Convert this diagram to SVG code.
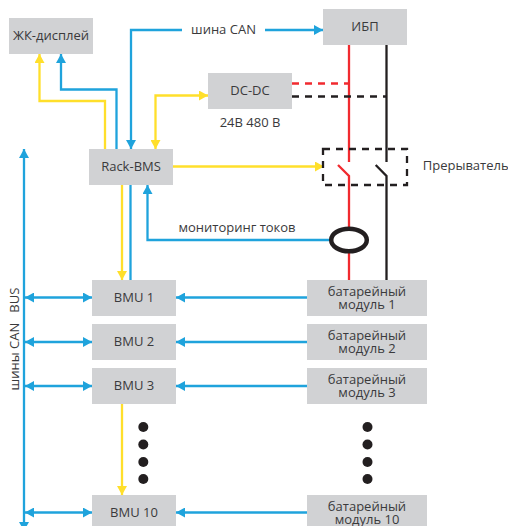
<svg xmlns="http://www.w3.org/2000/svg" width="508" height="526" viewBox="0 0 508 526">
<style>
.box{fill:#d1d2d4}
text{font-family:"Open Sans","Liberation Sans",sans-serif;font-size:13px;fill:#3a3a3c;text-anchor:middle}
.l{fill:none;stroke-width:2.300}
.b{stroke:#1fa3dc}.y{stroke:#ffdf2b}.r{stroke:#f12a2f}.k{stroke:#231f20}
.d{stroke-dasharray:7 6}
.dot{fill:#231f20}
</style>
<defs>
<marker id="ab" markerUnits="userSpaceOnUse" markerWidth="10" markerHeight="10" refX="9" refY="5" orient="auto-start-reverse"><path d="M0 0L9 5L0 10Z" fill="#1fa3dc"/></marker>
<marker id="ay" markerUnits="userSpaceOnUse" markerWidth="10" markerHeight="10" refX="9" refY="5" orient="auto-start-reverse"><path d="M0 0L9 5L0 10Z" fill="#ffdf2b"/></marker>
</defs>
<g id="connectors">
<path class="l y" d="M105 149V101H39.500V54" marker-end="url(#ay)"/>
<path class="l b" d="M116.500 149V89.500H61V54" marker-end="url(#ab)"/>
<path class="l b" d="M182 30H131V149" marker-end="url(#ab)"/>
<path class="l b" d="M265 30H323" marker-end="url(#ab)"/>
<path class="l y" d="M208 95.500H155.500V149" marker-start="url(#ay)" marker-end="url(#ay)"/>
<path class="l y" d="M173 166.500H324" marker-end="url(#ay)"/>
<path class="l y" d="M122 185V280" marker-end="url(#ay)"/>
<path class="l b" d="M130.500 185V280"/>
<path class="l b" d="M329 240H147.500V185" marker-end="url(#ab)"/>
<path class="l b" d="M24 149V531" marker-start="url(#ab)" marker-end="url(#ab)"/>
<path class="l b" d="M25 297.500H92" marker-start="url(#ab)" marker-end="url(#ab)"/>
<path class="l b" d="M25 342H92" marker-start="url(#ab)" marker-end="url(#ab)"/>
<path class="l b" d="M25 386H92" marker-start="url(#ab)" marker-end="url(#ab)"/>
<path class="l b" d="M25 512.500H92" marker-start="url(#ab)" marker-end="url(#ab)"/>
<path class="l b" d="M307 297.500H176" marker-end="url(#ab)"/>
<path class="l b" d="M307 342H176" marker-end="url(#ab)"/>
<path class="l b" d="M307 386H176" marker-end="url(#ab)"/>
<path class="l b" d="M307 512.500H176" marker-end="url(#ab)"/>
<path class="l y" d="M122 404V495" marker-end="url(#ay)"/>
<path class="l r" d="M349 45V162"/>
<path class="l k" d="M386.500 45V162"/>
<path class="l r" d="M338 165L349 176V227M349 253V280"/>
<path class="l k" d="M375.700 165L386.500 176V280"/>
<path class="l r d" d="M292 83.500H349"/>
<path class="l k d" d="M292 96.500H386"/>
<rect class="l k d" x="323" y="149" width="84" height="36"/>
</g>
<g id="current-sensor"><ellipse cx="349" cy="240" rx="17.800" ry="11.300" fill="none" stroke="#231f20" stroke-width="4.500"/></g>
<g id="lcd"><rect class="box" x="9" y="18" width="84" height="36"/><text x="51" y="40">ЖК-дисплей</text></g>
<g id="rack-bms"><rect class="box" x="89" y="149" width="84" height="36"/><text x="131" y="171">Rack-BMS</text></g>
<g id="dc-dc"><rect class="box" x="208" y="73" width="84" height="36"/><text x="250" y="95">DC-DC</text></g>
<g id="ups"><rect class="box" x="323" y="9" width="84" height="36"/><text x="365" y="31">ИБП</text></g>
<g id="bmu1"><rect class="box" x="92" y="280" width="84" height="36"/><text x="134" y="302">BMU 1</text></g>
<g id="bmu2"><rect class="box" x="92" y="324" width="84" height="36"/><text x="134" y="346">BMU 2</text></g>
<g id="bmu3"><rect class="box" x="92" y="368" width="84" height="36"/><text x="134" y="390">BMU 3</text></g>
<g id="bmu10"><rect class="box" x="92" y="495" width="84" height="36"/><text x="134" y="517">BMU 10</text></g>
<g id="mod1"><rect class="box" x="307" y="280" width="120" height="36"/><text x="367" y="296">батарейный<tspan x="367" dy="12.500">модуль 1</tspan></text></g>
<g id="mod2"><rect class="box" x="307" y="324" width="120" height="36"/><text x="367" y="340">батарейный<tspan x="367" dy="13">модуль 2</tspan></text></g>
<g id="mod3"><rect class="box" x="307" y="368" width="120" height="36"/><text x="367" y="384">батарейный<tspan x="367" dy="13">модуль 3</tspan></text></g>
<g id="mod10"><rect class="box" x="307" y="495" width="120" height="36"/><text x="367" y="511">батарейный<tspan x="367" dy="13">модуль 10</tspan></text></g>
<g id="labels">
<text x="223.500" y="34">шина CAN</text>
<text x="250" y="127">24В 480 В</text>
<text x="465.700" y="170">Прерыватель</text>
<text x="237" y="232">мониторинг токов</text>
<text transform="translate(19 339) rotate(-90)" xml:space="preserve">шины CAN   BUS</text>
</g>
<g id="dots">
<circle class="dot" cx="143.300" cy="427" r="5"/><circle class="dot" cx="143.300" cy="444.500" r="5"/><circle class="dot" cx="143.300" cy="462" r="5"/><circle class="dot" cx="143.300" cy="479" r="5"/>
<circle class="dot" cx="367.500" cy="427" r="5"/><circle class="dot" cx="367.500" cy="444.500" r="5"/><circle class="dot" cx="367.500" cy="462" r="5"/><circle class="dot" cx="367.500" cy="479" r="5"/>
</g>
</svg>
